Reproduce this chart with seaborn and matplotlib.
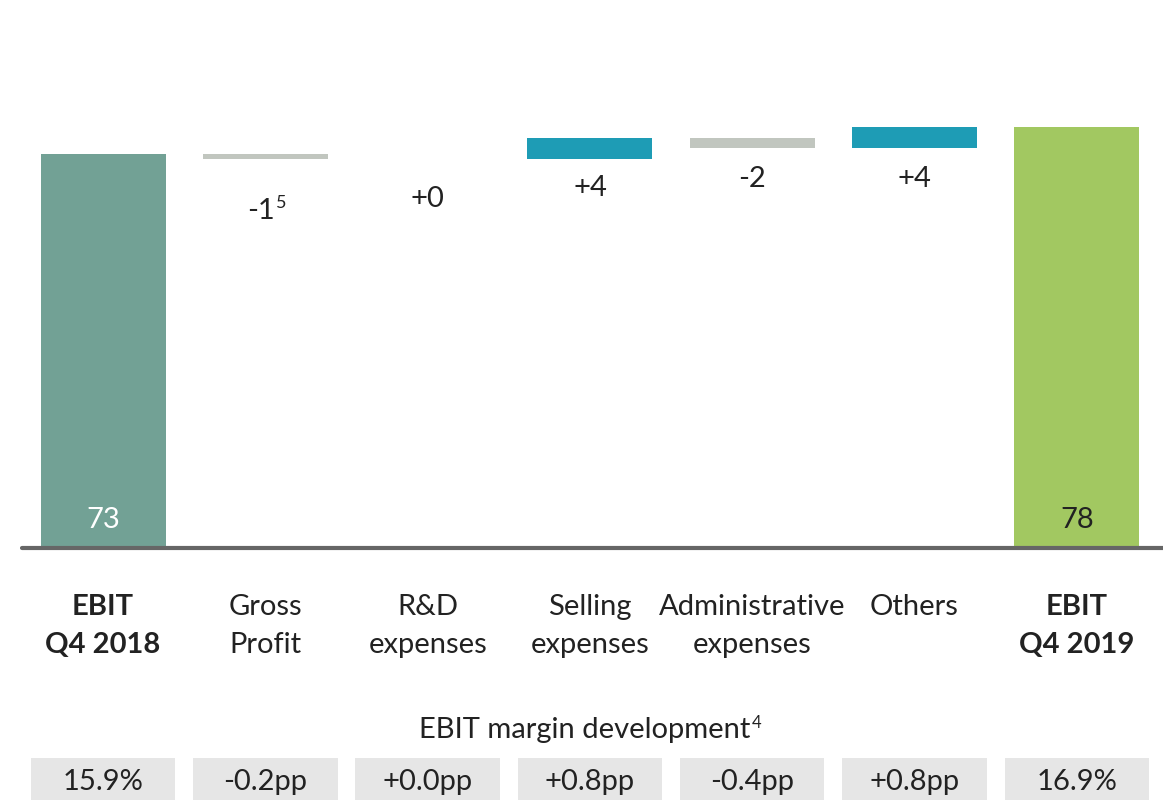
import matplotlib
matplotlib.use("Agg")
import matplotlib.pyplot as plt
import seaborn as sns
import numpy as np
import pandas as pd

# ---- data ----
categories = ["EBIT\nQ4 2018", "Gross\nProfit", "R&D\nexpenses", "Selling\nexpenses",
              "Administrative\nexpenses", "Others", "EBIT\nQ4 2019"]
start_value = 73
deltas = [-1, 0, 4, -2, 4]
end_value = 78
delta_labels = ["-1", "+0", "+4", "-2", "+4"]
delta_footnotes = ["5", "", "", "", ""]
margin_labels = ["15.9%", "-0.2pp", "+0.0pp", "+0.8pp", "-0.4pp", "+0.8pp", "16.9%"]
margin_title = "EBIT margin development"
margin_footnote = "4"

# ---- derived waterfall ----
tops, bottoms = [start_value], [0]
level = start_value
for d in deltas:
    new = level + d
    tops.append(max(level, new))
    bottoms.append(min(level, new))
    level = new
tops.append(end_value)
bottoms.append(0)

c_start, c_neg, c_pos, c_end = "#72A195", "#C1C6BF", "#1E9CB5", "#A2C861"
colors = [c_start] + [c_pos if d > 0 else c_neg for d in deltas] + [c_end]

sns.set_theme(style="white")
plt.rcParams["font.family"] = ["Lato", "DejaVu Sans"]
txt = "#222222"
FS = 21

fig = plt.figure(figsize=(11.63, 8.0), dpi=100)
ax = fig.add_axes([0, 0.315, 1, 0.685])

df = pd.DataFrame({"cat": categories, "top": tops})
sns.barplot(data=df, x="cat", y="top", hue="cat", palette=colors, legend=False,
            width=0.77, saturation=1, ax=ax)
for p, b, t in zip(ax.patches, bottoms, tops):
    p.set_y(b)
    p.set_height(t - b)
    p.set_edgecolor("none")

ax.set_xlim(-0.635, 6.531)
ax.set_ylim(0, 101.5)
for s in ax.spines.values():
    s.set_visible(False)
ax.axhline(0, xmin=0.019, xmax=1, color="#666666", lw=3, clip_on=False)
ax.set_yticks([])
ax.set_xlabel("")
ax.set_ylabel("")
ax.set_xticks(range(len(categories)))
ax.set_xticklabels(categories, linespacing=1.58, va="top")
ax.tick_params(axis="x", length=0, pad=33, labelsize=FS, labelcolor=txt)
for i, lab in enumerate(ax.get_xticklabels()):
    if i in (0, len(categories) - 1):
        lab.set_fontweight("bold")

# start / end values inside bars
ax.text(0, 5.2, str(start_value), ha="center", va="center", fontsize=FS, color="white")
ax.text(len(categories) - 1, 5.2, str(end_value), ha="center", va="center", fontsize=FS, color=txt)

# delta labels
offsets_px = [-52, -40, -29, -31, -31]
for i, (lab, fn) in enumerate(zip(delta_labels, delta_footnotes)):
    x = i + 1
    y = bottoms[x]
    if fn:
        ax.annotate(lab, (x, y), xytext=(7, offsets_px[i] * 0.72), textcoords="offset points",
                    ha="right", va="center", fontsize=FS, color=txt)
        ax.annotate(fn, (x, y), xytext=(7.5, offsets_px[i] * 0.72 + 6), textcoords="offset points",
                    ha="left", va="center", fontsize=13, color=txt)
    else:
        ax.annotate(lab, (x, y), xytext=(0, offsets_px[i] * 0.72), textcoords="offset points",
                    ha="center", va="center", fontsize=FS, color=txt)

# bottom margin boxes
ax2 = fig.add_axes([0, 0, 1, 0.315])
box_df = pd.DataFrame({"cat": categories, "h": [42] * len(categories)})
sns.barplot(data=box_df, x="cat", y="h", color="#E6E6E6", saturation=1, width=0.89, ax=ax2)
for p in ax2.patches:
    p.set_edgecolor("none")
ax2.set_xlim(-0.635, 6.531)
ax2.set_ylim(0, 252)
ax2.axis("off")
for i, m in enumerate(margin_labels):
    ax2.text(i, 18, m, ha="center", va="center", fontsize=FS, color=txt)
ax2.text(3.99, 70, margin_title, ha="right", va="center", fontsize=FS, color=txt)
ax2.text(4.0, 77, margin_footnote, ha="left", va="center", fontsize=12, color=txt)

fig.savefig("out.png", dpi=100)
